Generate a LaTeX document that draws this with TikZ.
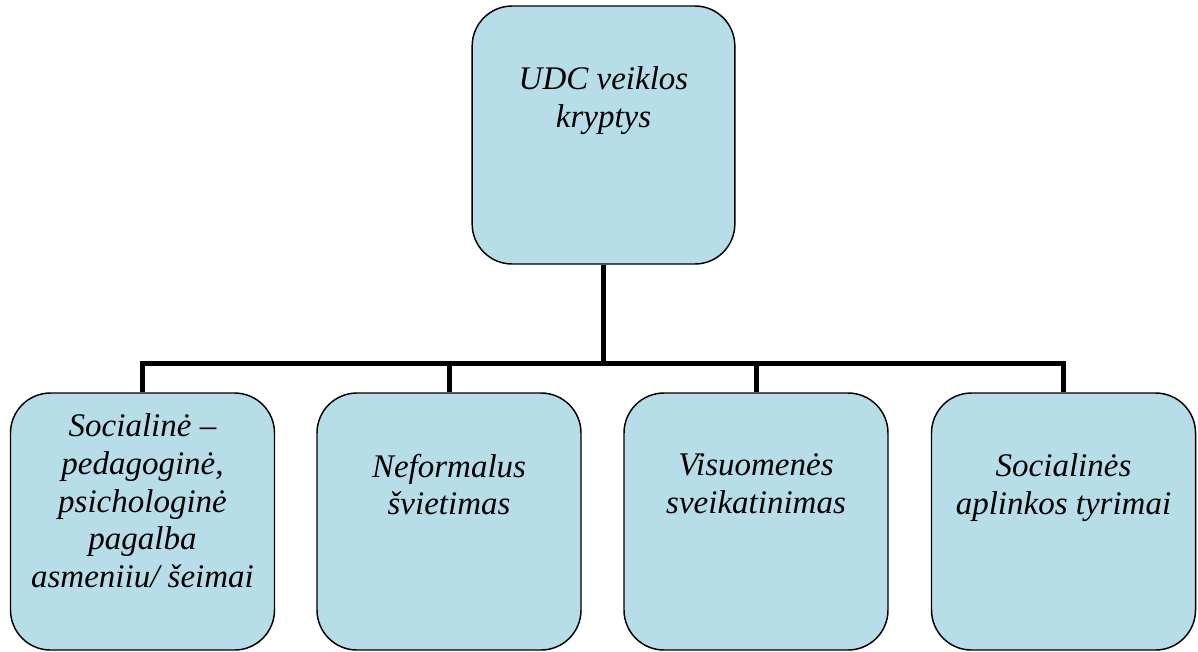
\documentclass[tikz,border=0pt]{standalone}
\usepackage{fontspec}
\setmainfont{Liberation Serif}
\usetikzlibrary{backgrounds}
\definecolor{boxfill}{HTML}{B7DEE8}
\tikzset{
  box/.style={draw=black, line width=1.1pt, fill=boxfill, rounded corners=30pt, inner sep=0pt},
  topbox/.style={box, minimum width=197pt, minimum height=193.5pt},
  lowbox/.style={box, minimum width=198pt, minimum height=192.75pt},
  label/.style={anchor=north, align=center, inner sep=0pt,
    font=\fontsize{24.75}{28.3}\selectfont\itshape, execute at begin node=\strut},
  conn/.style={draw=black, line width=3.75pt}
}
\begin{document}
\begin{tikzpicture}[x=0.75pt,y=-0.75pt]
\useasboundingbox (0,0) rectangle (1198,651);
% boxes
\node[topbox] (top) at (603.5,135) {};
\node[lowbox] (b1) at (142.5,521.5) {};
\node[lowbox] (b2) at (449,521.5) {};
\node[lowbox] (b3) at (756,521.5) {};
\node[lowbox] (b4) at (1063.5,521.5) {};
% texts
\node[label] (t0) at (603.5,66.5) {UDC veiklos\\kryptys};
\node[label] (t1) at (142.5,413.5) {Socialinė –\\pedagoginė,\\psichologinė\\pagalba\\asmeniiu/ šeimai};
\node[label] (t2) at (449,453.5) {Neformalus\\švietimas};
\node[label] (t3) at (756,453.5) {Visuomenės\\sveikatinimas};
\node[label] (t4) at (1063.5,453.5) {Socialinės\\aplinkos tyrimai};
% connectors
\coordinate (bar) at (0,363);
\begin{scope}[on background layer]
\draw[conn] (top.south) -- (top.south |- bar);
\draw[conn] (b1.north) -- (b1.north |- bar) -- (b4.north |- bar) -- (b4.north);
\draw[conn] (b2.north) -- (b2.north |- bar);
\draw[conn] (b3.north) -- (b3.north |- bar);
\end{scope}
\end{tikzpicture}
\end{document}
